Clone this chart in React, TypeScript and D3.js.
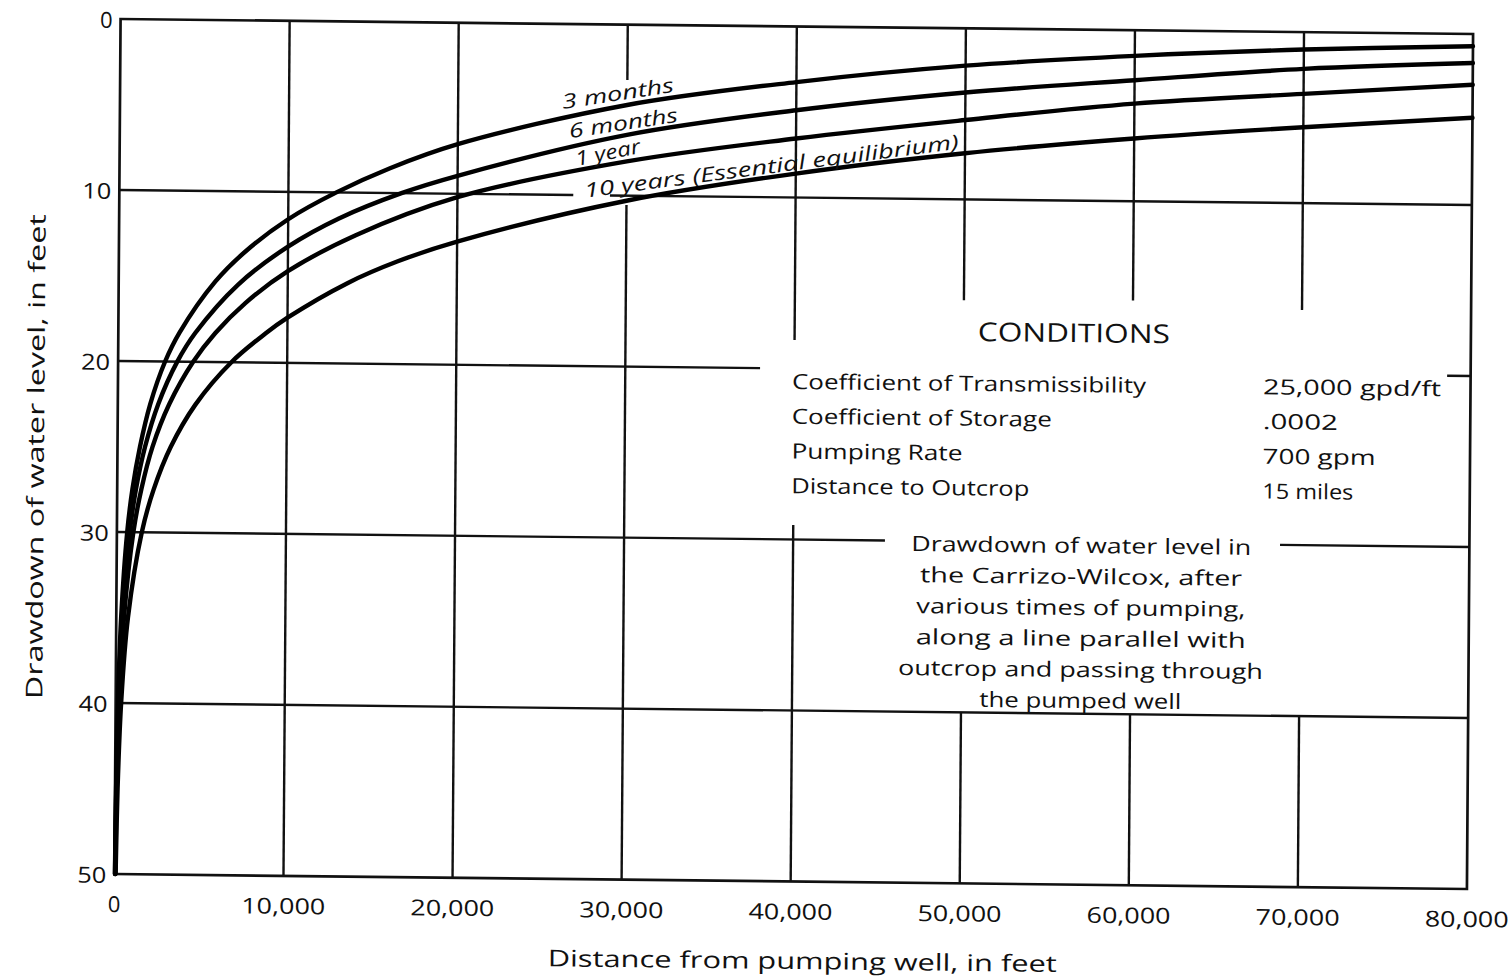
import React from "react";
import * as d3 from "d3";

// ---- data ----
const xTickValues = [0, 10000, 20000, 30000, 40000, 50000, 60000, 70000, 80000];
const yTickValues = [0, 10, 20, 30, 40, 50];

const seriesNames = ["3 months", "6 months", "1 year", "10 years (Essential equilibrium)"];

const distance3mo = [30, 63, 135, 288, 610, 899, 1330, 1918, 2780, 3620, 5710, 7500, 10000, 12840, 16000, 20000, 30000, 40000, 50000, 60000, 70000, 80000];
const drawdown3mo = [50, 45, 40, 35, 30, 27.5, 25, 22.5, 20, 18.3, 15.3, 13.5, 11.6, 10, 8.55, 7.1, 4.7, 3.25, 2.18, 1.5, 1.02, 0.72];

const distance6mo = [35, 75, 162, 349, 760, 1108, 1630, 2390, 3500, 4560, 7070, 10000, 13000, 16690, 20000, 30000, 40000, 50000, 60000, 70000, 80000];
const drawdown6mo = [50, 45, 40, 35, 30, 27.5, 25, 22.5, 20, 18.3, 15.45, 13.2, 11.52, 10, 8.95, 6.45, 4.9, 3.75, 2.92, 2.15, 1.7];

const distance1yr = [47, 100, 214, 457, 975, 1426, 2070, 3040, 4440, 5740, 7500, 10000, 14000, 20000, 30000, 40000, 50000, 60000, 70000, 80000];
const drawdown1yr = [50, 45, 40, 35, 30, 27.5, 25, 22.5, 20, 18.3, 16.53, 14.64, 12.49, 10.2, 8.0, 6.55, 5.36, 4.29, 3.61, 2.97];

const distance10yr = [71, 151, 324, 690, 1474, 2154, 3145, 4590, 6700, 8700, 10000, 13530, 16500, 20000, 30000, 40000, 50000, 60000, 70000, 80000];
const drawdown10yr = [50, 45, 40, 35, 30, 27.5, 25, 22.5, 20, 18.3, 17.36, 15.3, 13.99, 12.8, 10.3, 8.6, 7.3, 6.33, 5.56, 4.9];

const conditionLabels = ["Coefficient of Transmissibility", "Coefficient of Storage", "Pumping Rate", "Distance to Outcrop"];
const conditionValues = ["25,000 gpd/ft", ".0002", "700 gpm", "15 miles"];

const captionLines = [
  "Drawdown of water level in",
  "the Carrizo-Wilcox, after",
  "various times of pumping,",
  "along a line parallel with",
  "outcrop and passing through",
  "the pumped well",
];

const W = 1511;
const H = 978;
const FONT = "'Open Sans', 'DejaVu Sans', sans-serif";

export default function App() {
  const x = d3.scaleLinear().domain([0, 80000]).range([117.5, 1470]);
  const y = d3.scaleLinear().domain([0, 50]).range([26.5, 881.5]);

  const line = d3
    .line<[number, number]>()
    .x((d) => x(d[0]))
    .y((d) => y(d[1]))
    .curve(d3.curveCatmullRom.alpha(0.5));

  const curves = [
    d3.zip(distance3mo, drawdown3mo) as [number, number][],
    d3.zip(distance6mo, drawdown6mo) as [number, number][],
    d3.zip(distance1yr, drawdown1yr) as [number, number][],
    d3.zip(distance10yr, drawdown10yr) as [number, number][],
  ];

  // gridline layout (segments in data units, gaps where the original lettering sits)
  const hGrid: { v: number; segs: [number, number][] }[] = [
    { v: 10, segs: [[0, 26850], [29020, 80000]] },
    { v: 20, segs: [[0, 37970], [78610, 80000]] },
    { v: 30, segs: [[0, 45430], [68800, 80000]] },
    { v: 40, segs: [[0, 80000]] },
  ];
  const vGrid: { v: number; segs: [number, number][] }[] = [
    { v: 10000, segs: [[0, 50]] },
    { v: 20000, segs: [[0, 50]] },
    { v: 30000, segs: [[0, 3.24], [10.55, 50]] },
    { v: 40000, segs: [[0, 18.33], [29.15, 50]] },
    { v: 50000, segs: [[0, 15.9], [40, 50]] },
    { v: 60000, segs: [[0, 15.8], [40, 50]] },
    { v: 70000, segs: [[0, 16.25], [40, 50]] },
  ];

  const labelPlacement = [
    { x: 560.5, y: 111.6, a: -9.4, len: 113 },
    { x: 567.7, y: 140.8, a: -9.3, len: 110 },
    { x: 574.6, y: 168.4, a: -12, len: 66 },
    { x: 583.1, y: 200, a: -8.1, len: 378 },
  ];

  const cx = 794;
  const cy = 454;
  const shear = `matrix(1,0.0111,-0.0072,1,${0.0072 * cy},${-0.0111 * cx})`;

  const xTickLen = (v: number) => (v === 0 ? undefined : 84);

  return (
    <svg
      width={W}
      height={H}
      viewBox={`0 0 ${W} ${H}`}
      style={{ position: "absolute", left: 0, top: 0, background: "#fff" }}
    >
      <rect x={0} y={0} width={W} height={H} fill="#fff" />
      <g transform={shear} fill="#111" fontFamily={FONT}>
        {/* grid */}
        <g stroke="#111" strokeWidth={2.4} fill="none">
          {hGrid.map((g) =>
            g.segs.map((s, i) => (
              <line key={`h${g.v}-${i}`} x1={x(s[0])} x2={x(s[1])} y1={y(g.v)} y2={y(g.v)} />
            ))
          )}
          {vGrid.map((g) =>
            g.segs.map((s, i) => (
              <line key={`v${g.v}-${i}`} x1={x(g.v)} x2={x(g.v)} y1={y(s[0])} y2={y(s[1])} />
            ))
          )}
          <rect
            x={x(0)}
            y={y(0)}
            width={x(80000) - x(0)}
            height={y(50) - y(0)}
            strokeWidth={2.7}
          />
        </g>

        {/* curves */}
        <g stroke="#000" strokeWidth={4.4} fill="none" strokeLinecap="round" strokeLinejoin="round">
          {curves.map((c, i) => (
            <path key={seriesNames[i]} d={line(c) || ""} />
          ))}
        </g>

        {/* curve labels */}
        {seriesNames.map((name, i) => {
          const p = labelPlacement[i];
          return (
            <text
              key={name}
              transform={`translate(${p.x},${p.y}) rotate(${p.a})`}
              fontSize={20}
              fontStyle="italic"
              textLength={p.len}
              lengthAdjust="spacingAndGlyphs"
            >
              {name}
            </text>
          );
        })}

        {/* y ticks */}
        {yTickValues.map((v) => (
          <text
            key={`yt${v}`}
            x={x(0) - 8}
            y={y(v) + 9}
            fontSize={22}
            textAnchor="end"
            textLength={v === 0 ? undefined : 29}
            lengthAdjust="spacingAndGlyphs"
          >
            {String(v)}
          </text>
        ))}

        {/* x ticks */}
        {xTickValues.map((v) => (
          <text
            key={`xt${v}`}
            x={x(v)}
            y={y(50) + 38}
            fontSize={22}
            textAnchor="middle"
            textLength={xTickLen(v)}
            lengthAdjust="spacingAndGlyphs"
          >
            {d3.format(",")(v)}
          </text>
        ))}

        {/* axis titles */}
        <text
          x={806}
          y={969}
          fontSize={23}
          textAnchor="middle"
          textLength={509}
          lengthAdjust="spacingAndGlyphs"
        >
          Distance from pumping well, in feet
        </text>
        <text
          transform="translate(44,465) rotate(-90)"
          fontSize={23}
          textAnchor="middle"
          textLength={485}
          lengthAdjust="spacingAndGlyphs"
        >
          Drawdown of water level, in feet
        </text>

        {/* conditions box */}
        <text
          x={1073}
          y={339}
          fontSize={26}
          textAnchor="middle"
          textLength={192}
          lengthAdjust="spacingAndGlyphs"
        >
          CONDITIONS
        </text>
        {conditionLabels.map((t, i) => (
          <text
            key={t}
            x={791.5}
            y={389 + i * 34.8}
            fontSize={21}
            textLength={[354, 260, 171, 238][i]}
            lengthAdjust="spacingAndGlyphs"
          >
            {t}
          </text>
        ))}
        {conditionValues.map((t, i) => (
          <text
            key={t}
            x={1262.6}
            y={389 + i * 34.8}
            fontSize={21}
            textLength={[178, 75, 113, 91][i]}
            lengthAdjust="spacingAndGlyphs"
          >
            {t}
          </text>
        ))}

        {/* caption */}
        {captionLines.map((t, i) => (
          <text
            key={t}
            x={1082}
            y={549.8 + i * 31}
            fontSize={21}
            textAnchor="middle"
            textLength={[340, 322, 329, 330, 365, 202][i]}
            lengthAdjust="spacingAndGlyphs"
          >
            {t}
          </text>
        ))}
      </g>
    </svg>
  );
}
